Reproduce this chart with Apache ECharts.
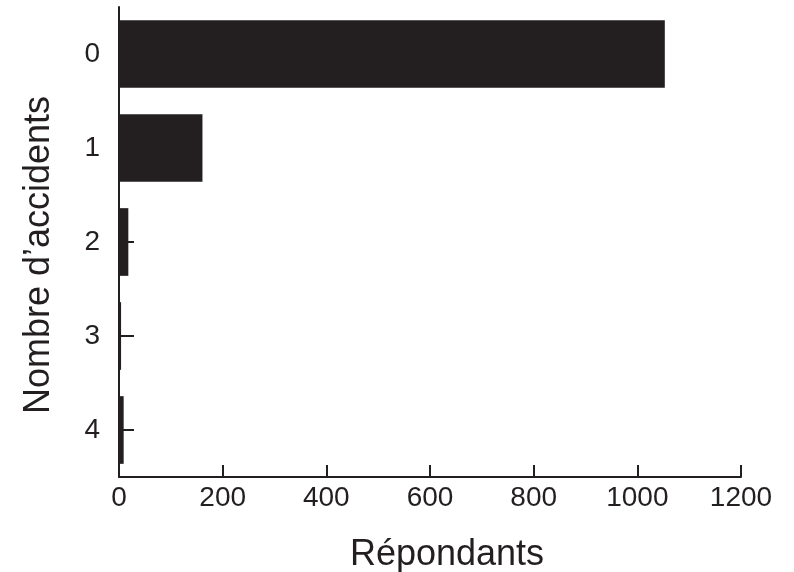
<!DOCTYPE html>
<html>
<head>
<meta charset="utf-8">
<script src="https://cdn.jsdelivr.net/npm/echarts@6/dist/echarts.min.js"></script>
<style>
  html, body { margin: 0; padding: 0; background: #fff; }
  #chart { width: 794px; height: 572px; }
</style>
</head>
<body>
<div id="chart"></div>
<script>
// nombre d'accidents (top to bottom) and respondents
const categories = ['0', '1', '2', '3', '4']
const respondents = [1053, 161, 18, 4, 9]
const xTicks = [0, 200, 400, 600, 800, 1000, 1200]

const ink = '#231f20'
const font = 'Liberation Sans'

const chart = echarts.init(document.getElementById('chart'))
chart.setOption({
  animation: false,
  grid: { left: 119, right: 53, top: 7, bottom: 95, outerBoundsMode: 'none' },
  xAxis: {
    type: 'value',
    min: xTicks[0],
    max: xTicks[xTicks.length - 1],
    interval: 200,
    name: 'Répondants',
    nameLocation: 'middle',
    nameGap: 60,
    nameTextStyle: { fontSize: 36, color: ink, fontFamily: font, padding: [0, 0, 0, 34] },
    axisLine: { show: true, lineStyle: { color: ink, width: 2 } },
    axisTick: { show: true, inside: true, length: 12, lineStyle: { color: ink, width: 2 } },
    axisLabel: { fontSize: 28, color: ink, fontFamily: font, margin: 7, formatter: (v) => String(v) },
    splitLine: { show: false }
  },
  yAxis: {
    type: 'category',
    inverse: true,
    data: categories,
    name: 'Nombre d\u2019accidents',
    nameLocation: 'middle',
    nameGap: 62,
    nameTextStyle: { fontSize: 36, color: ink, fontFamily: font, padding: [0, 26, 0, 0] },
    axisLine: { show: true, lineStyle: { color: ink, width: 2 } },
    axisTick: { show: true, inside: true, alignWithLabel: true, length: 15, lineStyle: { color: ink, width: 2 } },
    axisLabel: { fontSize: 28, color: ink, fontFamily: font, margin: 19 }
  },
  series: [{
    type: 'bar',
    data: respondents,
    barCategoryGap: '28%',
    itemStyle: { color: ink }
  }]
})
</script>
</body>
</html>
